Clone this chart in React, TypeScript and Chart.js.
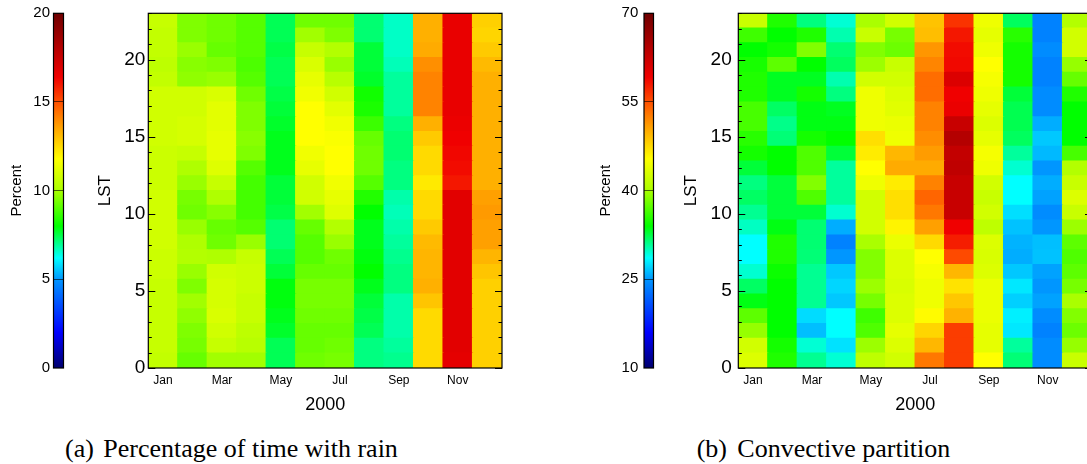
import React, { useEffect, useRef } from "react";
import { Chart, registerables } from "chart.js";

Chart.register(...registerables);

// ---------- categories / ticks ----------
const months = ["Jan", "Feb", "Mar", "Apr", "May", "Jun", "Jul", "Aug", "Sep", "Oct", "Nov", "Dec"];
const hours = [0, 1, 2, 3, 4, 5, 6, 7, 8, 9, 10, 11, 12, 13, 14, 15, 16, 17, 18, 19, 20, 21, 22, 23];
const lstMax = 23;
const lstStep = 5;
const rainRange = [0, 20];
const rainStep = 5;
const convRange = [10, 70];
const convStep = 15;

// ---------- (a) percentage of time with rain, per month, hour 0 -> 23 ----------
const rainJan = [10.5, 10.6, 10.6, 10.6, 10.6, 10.6, 10.7, 10.7, 10.8, 10.8, 10.8, 10.8, 10.7, 10.7, 10.7, 10.8, 10.8, 10.8, 10.8, 10.5, 10.4, 10.5, 10.5, 10.6];
const rainFeb = [9.2, 9.4, 9.5, 9.7, 9.9, 9.5, 9.8, 10.2, 10.1, 9.8, 9.3, 9.4, 9.8, 10.1, 10.6, 10.9, 10.9, 10.8, 10.8, 9.7, 9.6, 9.8, 9.5, 9.5];
const rainMar = [9.9, 10.6, 10.8, 11.0, 10.9, 10.9, 10.8, 10.1, 9.3, 9.2, 9.6, 10.1, 10.6, 11.1, 11.3, 11.3, 11.2, 11.2, 11.0, 9.8, 9.5, 9.2, 9.3, 9.3];
const rainApr = [9.9, 10.3, 10.4, 10.6, 10.6, 10.7, 10.7, 10.6, 9.8, 9.0, 8.8, 8.8, 8.8, 9.0, 9.5, 9.6, 9.5, 9.5, 9.3, 9.0, 8.9, 9.0, 9.0, 9.0];
const rainMay = [7.4, 7.4, 7.7, 7.8, 7.9, 7.9, 7.6, 7.4, 7.2, 7.2, 7.5, 7.6, 7.6, 7.8, 7.8, 7.8, 7.7, 7.6, 7.5, 7.4, 7.4, 7.5, 7.4, 7.4];
const rainJun = [9.3, 9.2, 9.2, 9.3, 9.4, 9.4, 9.2, 9.0, 9.0, 9.2, 9.9, 10.8, 10.8, 11.3, 11.5, 11.8, 11.8, 11.8, 11.5, 11.3, 11.0, 10.6, 9.9, 9.3];
const rainJul = [9.4, 9.3, 9.2, 9.3, 9.4, 9.4, 9.2, 9.3, 9.8, 10.2, 11.1, 11.3, 11.5, 11.8, 11.8, 11.7, 11.5, 11.2, 10.8, 10.3, 9.8, 10.2, 9.5, 9.3];
const rainAug = [7.1, 7.1, 7.4, 7.5, 7.6, 7.8, 8.0, 7.9, 7.8, 7.8, 8.0, 8.4, 9.0, 9.3, 9.3, 9.2, 8.7, 8.3, 8.2, 7.7, 7.6, 7.6, 7.2, 7.2];
const rainSep = [7.0, 6.9, 6.8, 6.8, 6.8, 7.1, 7.1, 7.0, 6.9, 6.8, 6.7, 6.8, 7.1, 7.1, 7.2, 7.2, 7.1, 6.9, 6.9, 6.9, 6.7, 6.6, 6.6, 6.6];
const rainOct = [12.5, 12.5, 12.5, 12.5, 12.9, 13.3, 13.2, 13.2, 13.1, 12.8, 12.5, 12.5, 12.2, 12.5, 12.5, 12.8, 13.3, 14.1, 14.1, 14.1, 13.9, 13.4, 13.3, 13.3];
const rainNov = [16.7, 16.8, 16.8, 16.8, 16.8, 16.8, 16.8, 16.8, 16.8, 16.8, 16.8, 16.8, 16.0, 16.2, 16.3, 16.4, 16.5, 16.6, 16.6, 16.6, 16.6, 16.6, 16.6, 16.6];
const rainDec = [12.7, 12.7, 12.7, 12.7, 12.7, 12.7, 12.9, 13.2, 13.6, 13.6, 13.7, 13.6, 13.3, 13.3, 13.3, 13.3, 13.3, 13.3, 13.3, 13.3, 13.1, 12.8, 12.6, 12.7];

// ---------- (b) convective partition, per month, hour 0 -> 23 ----------
const convJan = [43.2, 42.5, 39.3, 37.3, 33.6, 31.9, 29.6, 28.6, 28.6, 29.9, 30.9, 31.9, 31.3, 32.8, 34.7, 35.4, 36.5, 36.5, 35.1, 35.1, 34.8, 34.0, 36.2, 41.9];
const convFeb = [35.1, 34.7, 34.0, 34.0, 34.0, 34.0, 34.4, 35.1, 35.1, 33.6, 32.8, 32.8, 32.7, 34.0, 34.0, 31.5, 31.1, 31.9, 33.3, 33.3, 37.3, 34.7, 34.0, 35.1];
const convMar = [30.9, 29.5, 26.4, 27.4, 30.9, 30.9, 30.9, 31.5, 31.6, 31.6, 32.8, 36.8, 38.6, 36.8, 36.8, 34.7, 33.6, 33.6, 34.7, 33.3, 34.0, 38.6, 35.1, 31.3];
const convApr = [29.5, 27.6, 28.6, 28.6, 26.7, 27.2, 26.7, 25.0, 23.8, 25.8, 29.6, 30.7, 30.7, 30.7, 32.8, 34.0, 33.6, 33.3, 31.3, 30.3, 32.0, 31.6, 30.3, 29.5];
const convMay = [41.3, 39.5, 36.8, 36.2, 38.2, 39.5, 38.6, 38.6, 40.0, 42.5, 42.5, 42.5, 44.4, 45.4, 46.5, 47.2, 44.4, 44.4, 44.4, 42.5, 39.5, 38.6, 41.9, 40.0];
const convJun = [42.5, 43.2, 43.8, 43.2, 43.2, 42.9, 43.2, 43.2, 44.1, 46.0, 47.2, 47.2, 46.5, 50.2, 49.5, 44.4, 44.1, 43.5, 43.2, 42.5, 41.9, 37.8, 38.2, 42.5];
const convJul = [52.9, 49.5, 47.8, 45.6, 44.4, 44.4, 44.8, 45.4, 47.5, 50.8, 52.9, 53.9, 52.4, 50.2, 51.0, 51.8, 52.4, 52.4, 53.5, 53.5, 52.2, 51.3, 49.1, 48.8];
const convAug = [56.0, 56.0, 56.0, 49.8, 48.6, 47.0, 49.5, 55.3, 57.7, 59.2, 62.5, 62.5, 62.5, 63.3, 62.9, 64.2, 62.5, 59.6, 59.2, 60.9, 58.8, 58.6, 58.0, 56.5];
const convSep = [45.4, 43.8, 43.8, 44.1, 44.1, 44.1, 43.2, 42.9, 43.2, 41.3, 42.5, 41.9, 42.5, 44.4, 44.8, 43.8, 43.2, 43.8, 44.4, 44.8, 45.4, 44.4, 43.8, 44.4];
const convOct = [31.5, 30.7, 27.8, 28.1, 27.0, 27.8, 26.7, 25.8, 26.0, 26.5, 27.5, 28.6, 28.6, 29.6, 30.7, 32.0, 32.3, 32.3, 32.8, 34.7, 34.7, 34.7, 35.4, 32.0];
const convNov = [24.4, 24.4, 23.8, 24.4, 25.4, 25.0, 25.4, 26.5, 26.4, 25.0, 24.4, 25.4, 25.8, 25.0, 26.2, 26.7, 25.8, 24.4, 24.4, 23.8, 23.8, 24.4, 23.8, 23.8];
const convDec = [41.9, 39.3, 37.8, 38.6, 40.0, 38.2, 37.3, 36.8, 37.3, 39.5, 41.9, 43.2, 41.9, 40.6, 36.5, 34.0, 34.0, 34.0, 35.1, 37.6, 39.3, 42.5, 42.5, 40.6];

const rainByMonth = [rainJan, rainFeb, rainMar, rainApr, rainMay, rainJun, rainJul, rainAug, rainSep, rainOct, rainNov, rainDec];
const convByMonth = [convJan, convFeb, convMar, convApr, convMay, convJun, convJul, convAug, convSep, convOct, convNov, convDec];

// ---------- colour map ----------
const cmapStops: [number, number, number, number][] = [
  [0.0, 0, 0, 110],
  [0.1, 0, 0, 255],
  [0.25, 0, 150, 255],
  [0.31, 0, 255, 255],
  [0.4, 0, 255, 0],
  [0.5, 170, 255, 0],
  [0.59, 255, 255, 0],
  [0.68, 255, 160, 0],
  [0.75, 255, 80, 0],
  [0.82, 240, 0, 0],
  [1.0, 110, 0, 0],
];

function colormap(t: number): string {
  const x = Math.max(0, Math.min(1, t));
  for (let i = 1; i < cmapStops.length; i++) {
    const a = cmapStops[i - 1];
    const b = cmapStops[i];
    if (x <= b[0]) {
      const f = (x - a[0]) / (b[0] - a[0]);
      const r = Math.round(a[1] + (b[1] - a[1]) * f);
      const g = Math.round(a[2] + (b[2] - a[2]) * f);
      const bl = Math.round(a[3] + (b[3] - a[3]) * f);
      return `rgb(${r},${g},${bl})`;
    }
  }
  const l = cmapStops[cmapStops.length - 1];
  return `rgb(${l[1]},${l[2]},${l[3]})`;
}

const SANS = "'Liberation Sans', Arial, Helvetica, sans-serif";
const SERIF = "'Liberation Serif', 'Times New Roman', Times, serif";

Chart.defaults.font.family = SANS;
Chart.defaults.color = "#000";

// inward ticks + frame
const frameTicks = {
  id: "frameTicks",
  afterDatasetsDraw(chart: any) {
    const { ctx, chartArea } = chart;
    const { left, right, top, bottom } = chartArea;
    const y = chart.scales.y;
    ctx.save();
    ctx.strokeStyle = "#000";
    ctx.lineWidth = 1;
    for (let v = Math.ceil(y.min); v <= y.max; v++) {
      const py = Math.round(y.getPixelForValue(v)) + 0.5;
      const len = v % lstStep === 0 ? 7 : 3.5;
      ctx.beginPath();
      ctx.moveTo(left, py);
      ctx.lineTo(left + len, py);
      ctx.moveTo(right, py);
      ctx.lineTo(right - len, py);
      ctx.stroke();
    }
    ctx.lineWidth = 1.2;
    ctx.strokeRect(left, top, right - left, bottom - top);
    ctx.restore();
  },
};

// colour bar gradient + frame
const colorbarFill = {
  id: "colorbarFill",
  beforeDraw(chart: any) {
    const { ctx, chartArea } = chart;
    const { left, right, top, bottom } = chartArea;
    const y = chart.scales.y;
    ctx.save();
    for (let p = Math.floor(top); p < Math.ceil(bottom); p++) {
      const v = y.getValueForPixel(p + 0.5);
      ctx.fillStyle = colormap((v - y.min) / (y.max - y.min));
      ctx.fillRect(left, p, right - left, 1);
    }
    ctx.restore();
  },
  afterDraw(chart: any) {
    const { ctx, chartArea } = chart;
    const { left, right, top, bottom } = chartArea;
    ctx.save();
    ctx.strokeStyle = "#000";
    ctx.lineWidth = 1.2;
    ctx.strokeRect(left, top, right - left, bottom - top);
    ctx.restore();
  },
};

type HeatProps = {
  byMonth: number[][];
  vmin: number;
  vmax: number;
  left: number;
  yWidth: number;
  tickPad: number;
  titlePad: number;
};

function Heatmap({ byMonth, vmin, vmax, left, yWidth, tickPad, titlePad }: HeatProps) {
  const ref = useRef<HTMLCanvasElement | null>(null);
  useEffect(() => {
    if (!ref.current) return;
    const rowH = lstMax / hours.length;
    const datasets = hours.map((h) => ({
      label: String(h),
      data: months.map(() => [h * rowH, (h + 1) * rowH]),
      backgroundColor: byMonth.map((col) => colormap((col[h] - vmin) / (vmax - vmin))),
      borderWidth: 0,
      barPercentage: 1,
      categoryPercentage: 1,
      inflateAmount: 0.6,
    }));
    const chart = new Chart(ref.current, {
      type: "bar",
      data: { labels: months, datasets: datasets as any },
      options: {
        animation: false,
        responsive: false,
        events: [],
        layout: { padding: { left: 0, top: 13.3, right: 18, bottom: 0 } },
        plugins: { legend: { display: false }, tooltip: { enabled: false } },
        scales: {
          x: {
            type: "category",
            stacked: true,
            offset: true,
            grid: { display: false, drawTicks: false },
            border: { display: false },
            ticks: {
              autoSkip: false,
              maxRotation: 0,
              padding: 5.5,
              font: { size: 12 },
              color: "#000",
              callback: function (this: any, val: any, idx: number) {
                return idx % 2 === 0 ? this.getLabelForValue(val) : "";
              },
            },
            title: { display: true, text: "2000", font: { size: 18 }, color: "#000", padding: { top: 0, bottom: 4.2 } },
            afterFit: (s: any) => {
              s.height = 52;
            },
          },
          y: {
            type: "linear",
            stacked: false,
            min: 0,
            max: lstMax,
            grid: { display: false, drawTicks: false },
            border: { display: false },
            ticks: {
              stepSize: lstStep,
              includeBounds: false,
              padding: tickPad,
              font: { size: 19, lineHeight: 0.6 },
              color: "#000",
            },
            title: { display: true, text: "LST", font: { size: 17 }, color: "#000", padding: { top: titlePad, bottom: 0 } },
            afterFit: (s: any) => {
              s.width = yWidth;
            },
          },
        },
      } as any,
      plugins: [frameTicks],
    });
    return () => chart.destroy();
  }, []);
  return <canvas ref={ref} width={440} height={420} style={{ position: "absolute", left, top: 0 }} />;
}

type BarProps = {
  range: number[];
  step: number;
  left: number;
  yWidth: number;
  tickPad: number;
  titlePad: number;
};

function ColorBar({ range, step, left, yWidth, tickPad, titlePad }: BarProps) {
  const ref = useRef<HTMLCanvasElement | null>(null);
  useEffect(() => {
    if (!ref.current) return;
    const chart = new Chart(ref.current, {
      type: "bar",
      data: { labels: [""], datasets: [] },
      options: {
        animation: false,
        responsive: false,
        events: [],
        layout: { padding: { left: 0, top: 13.3, right: 6.5, bottom: 52 } },
        plugins: { legend: { display: false }, tooltip: { enabled: false } },
        scales: {
          x: { display: false },
          y: {
            type: "linear",
            min: range[0],
            max: range[1],
            grid: {
              display: true,
              drawTicks: false,
              lineWidth: 1,
              color: (c: any) =>
                c.tick && (c.tick.value === range[0] || c.tick.value === range[1]) ? "rgba(0,0,0,0)" : "rgba(0,0,0,0.6)",
            },
            border: { display: false },
            ticks: { stepSize: step, padding: tickPad, font: { size: 15, lineHeight: 0.6 }, color: "#000" },
            title: { display: true, text: "Percent", font: { size: 15 }, color: "#000", padding: { top: titlePad, bottom: 0 } },
            afterFit: (s: any) => {
              s.width = yWidth;
            },
          },
        },
      } as any,
      plugins: [colorbarFill],
    });
    return () => chart.destroy();
  }, []);
  return <canvas ref={ref} width={70} height={420} style={{ position: "absolute", left, top: 0 }} />;
}

const captionStyle: React.CSSProperties = {
  position: "absolute",
  top: 436.2,
  fontFamily: SERIF,
  fontSize: 26,
  lineHeight: "26px",
  whiteSpace: "nowrap",
  color: "#000",
};

export default function App() {
  return (
    <div
      style={{
        position: "fixed",
        left: 0,
        top: 0,
        width: 1087,
        height: 464,
        overflow: "hidden",
        background: "#fff",
      }}
    >
      <ColorBar range={rainRange} step={rainStep} left={0} yWidth={53.5} tickPad={3.5} titlePad={7.5} />
      <Heatmap byMonth={rainByMonth} vmin={rainRange[0]} vmax={rainRange[1]} left={80} yWidth={68.3} tickPad={3} titlePad={14.8} />
      <ColorBar range={convRange} step={convStep} left={590} yWidth={54} tickPad={5.7} titlePad={6.8} />
      <Heatmap byMonth={convByMonth} vmin={convRange[0]} vmax={convRange[1]} left={670} yWidth={68.3} tickPad={6.6} titlePad={11.5} />
      <div style={{ ...captionStyle, left: 65 }}>(a)</div>
      <div style={{ ...captionStyle, left: 103.3 }}>Percentage of time with rain</div>
      <div style={{ ...captionStyle, left: 696.7 }}>(b)</div>
      <div style={{ ...captionStyle, left: 737.3 }}>Convective partition</div>
    </div>
  );
}
